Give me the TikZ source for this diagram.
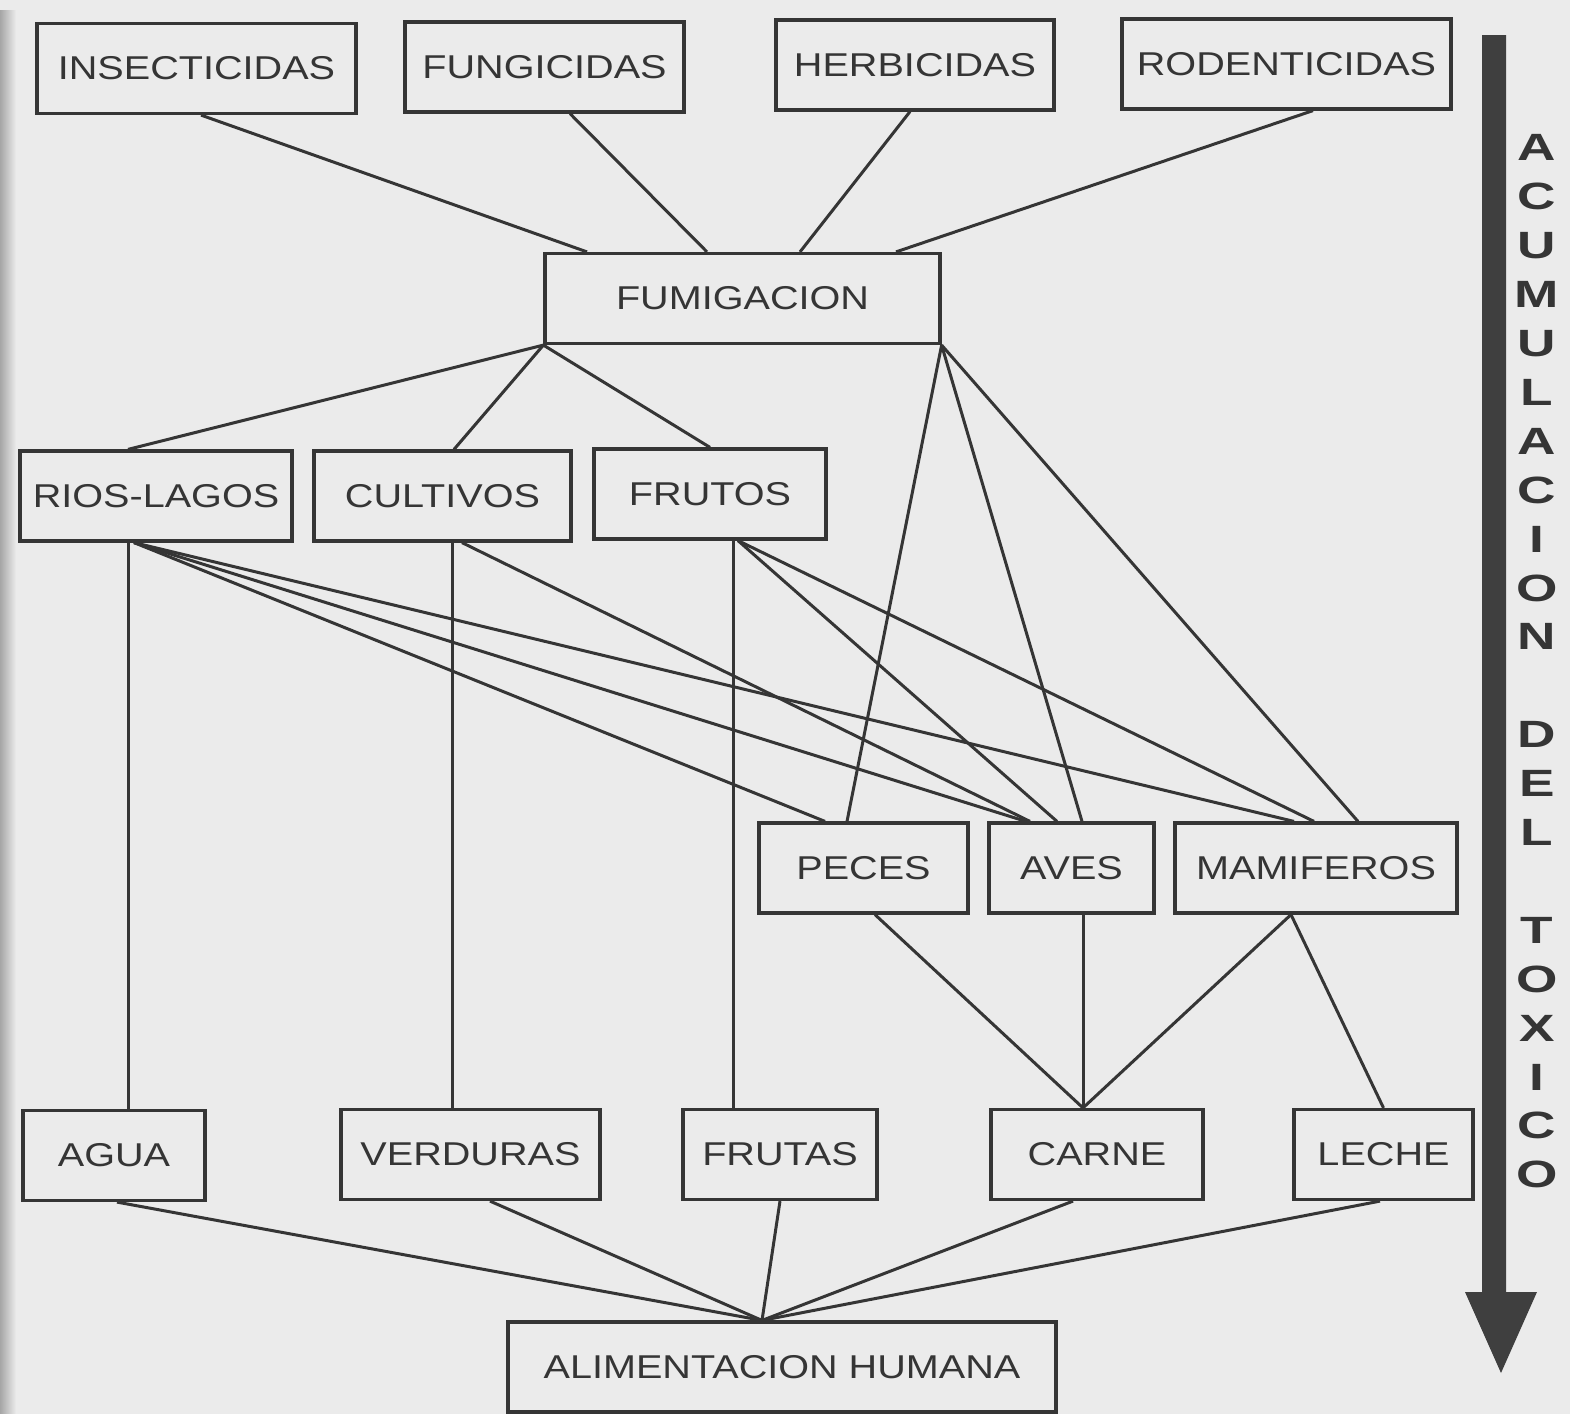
\documentclass[tikz,border=0pt]{standalone}
\usepackage{fontspec}
\usetikzlibrary{calc}
\newfontfamily\boxfont[FakeStretch=1.2]{Liberation Sans}
\newfontfamily\arrowfont[FakeStretch=1.4]{Liberation Sans}
\definecolor{inkGray}{HTML}{353535}
\definecolor{paperGray}{HTML}{EBEBEB}
\definecolor{arrowGray}{HTML}{3F3F3F}
\tikzset{
  boxNode/.style={draw=inkGray,line width=1.6pt,minimum height=45pt,inner sep=0pt,text=inkGray,font=\boxfont\fontsize{16.5}{19}\selectfont},
  link/.style={draw=inkGray,line width=1.5pt},
  arrowText/.style={align=center,inner sep=0pt,text=inkGray,font=\arrowfont\bfseries\fontsize{19}{24.45}\selectfont}
}

\begin{document}
\begin{tikzpicture}[x=0.5pt,y=-0.5pt]
  \useasboundingbox (0,0) rectangle (1570,1414);
  \fill[paperGray] (0,0) rectangle (1570,1414);
  \fill[left color=gray!70,right color=paperGray] (0,10) rectangle (16,1414);

  % pesticides
  \node[boxNode,minimum width=159.5pt] (ins) at (196.5,68.5) {INSECTICIDAS};
  \node[boxNode,minimum width=139.5pt] (fung) at (544.5,67) {FUNGICIDAS};
  \node[boxNode,minimum width=139pt] (herb) at (915,65) {HERBICIDAS};
  \node[boxNode,minimum width=164.5pt] (rod) at (1286.5,64) {RODENTICIDAS};
  \node[boxNode,minimum width=197.5pt] (fum) at (742.5,298.5) {FUMIGACION};

  % where it lands
  \node[boxNode,minimum width=136pt] (rios) at (156,496) {RIOS-LAGOS};
  \node[boxNode,minimum width=128.5pt] (cult) at (442.5,496) {CULTIVOS};
  \node[boxNode,minimum width=116pt] (frutos) at (710,494) {FRUTOS};
  \node[boxNode,minimum width=104.5pt] (peces) at (863.5,868) {PECES};
  \node[boxNode,minimum width=82.5pt] (aves) at (1071.5,868) {AVES};
  \node[boxNode,minimum width=141pt] (mam) at (1316,868) {MAMIFEROS};

  % food
  \node[boxNode,minimum width=91pt] (agua) at (114,1155.5) {AGUA};
  \node[boxNode,minimum width=129.5pt] (verd) at (470.5,1154.5) {VERDURAS};
  \node[boxNode,minimum width=97pt] (frutas) at (780,1154.5) {FRUTAS};
  \node[boxNode,minimum width=106pt] (carne) at (1097,1154.5) {CARNE};
  \node[boxNode,minimum width=89.5pt] (leche) at (1383.5,1154.5) {LECHE};
  \node[boxNode,minimum width=274pt] (alim) at (782,1367) {ALIMENTACION HUMANA};

  \draw[link] ($(ins.south)+(4.5,0)$) -- ($(fum.north)+(-155.5,0)$);
  \draw[link] ($(fung.south)+(25.5,0)$) -- ($(fum.north)+(-35.5,0)$);
  \draw[link] ($(herb.south)+(-5,0)$) -- ($(fum.north)+(57.5,0)$);
  \draw[link] ($(rod.south)+(26.5,0)$) -- ($(fum.north)+(153.5,0)$);

  \draw[link] (fum.south west) -- ($(rios.north)+(-28,0)$);
  \draw[link] (fum.south west) -- ($(cult.north)+(11.5,0)$);
  \draw[link] (fum.south west) -- (frutos.north);
  \draw[link] (fum.south east) -- ($(peces.north)+(-16.5,0)$);
  \draw[link] (fum.south east) -- ($(aves.north)+(10.5,0)$);
  \draw[link] (fum.south east) -- ($(mam.north)+(42,0)$);

  \draw[link] ($(rios.south)+(-28,0)$) -- ($(agua.north)+(14,0)$);
  \draw[link] ($(rios.south)+(-22,0)$) -- ($(peces.north)+(-38.5,0)$);
  \draw[link] ($(rios.south)+(-22,0)$) -- ($(aves.north)+(-45.5,0)$);
  \draw[link] ($(rios.south)+(-22,0)$) -- ($(mam.north)+(-22,0)$);
  \draw[link] ($(cult.south)+(9.5,0)$) -- ($(verd.north)+(-18.5,0)$);
  \draw[link] ($(cult.south)+(19.5,0)$) -- ($(aves.north)+(-41.5,0)$);
  \draw[link] ($(frutos.south)+(23,0)$) -- ($(frutas.north)+(-47,0)$);
  \draw[link] ($(frutos.south)+(28,0)$) -- ($(aves.north)+(-14.5,0)$);
  \draw[link] ($(frutos.south)+(28,0)$) -- ($(mam.north)+(-2,0)$);

  \draw[link] ($(peces.south)+(11.5,0)$) -- ($(carne.north)+(-14,0)$);
  \draw[link] ($(aves.south)+(11.5,0)$) -- ($(carne.north)+(-14,0)$);
  \draw[link] ($(mam.south)+(-25,0)$) -- ($(carne.north)+(-14,0)$);
  \draw[link] ($(mam.south)+(-25,0)$) -- (leche.north);

  \draw[link] ($(agua.south)+(3,0)$) -- ($(alim.north)+(-20,0)$);
  \draw[link] ($(verd.south)+(19.5,0)$) -- ($(alim.north)+(-20,0)$);
  \draw[link] (frutas.south) -- ($(alim.north)+(-20,0)$);
  \draw[link] ($(carne.south)+(-24,0)$) -- ($(alim.north)+(-20,0)$);
  \draw[link] ($(leche.south)+(-3.5,0)$) -- ($(alim.north)+(-20,0)$);

  % big arrow on the right
  \fill[arrowGray] (1482,35) -- (1506,35) -- (1506,1292) -- (1537,1292) -- (1501,1373)
    -- (1465,1292) -- (1482,1292) -- cycle;
  \node[arrowText] (acum) at (1537,661.5) {A\\C\\U\\M\\U\\L\\A\\C\\I\\O\\N\\[24.45pt]D\\E\\L\\[24.45pt]T\\O\\X\\I\\C\\O};
\end{tikzpicture}
\end{document}
